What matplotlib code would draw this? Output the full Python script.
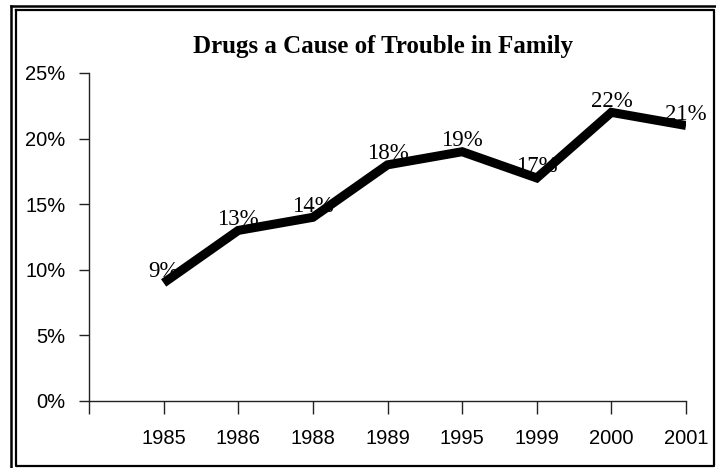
import matplotlib.pyplot as plt
from matplotlib.lines import Line2D

years = ['1985', '1986', '1988', '1989', '1995', '1999', '2000', '2001']
pct = [9, 13, 14, 18, 19, 17, 22, 21]
title = 'Drugs a Cause of Trouble in Family'

W, H = 716, 468
fig = plt.figure(figsize=(W / 100, H / 100), dpi=100)

def fx(x):
    return x / W

def fy(y):
    return 1 - y / H

# double frame round the chart (outer lines only show top/left)
fig.add_artist(Line2D([fx(11), fx(11)], [fy(5.5), fy(468)], color='black', lw=1.8))
fig.add_artist(Line2D([fx(11), fx(716)], [fy(5.5), fy(5.5)], color='black', lw=1.8))
fig.add_artist(Line2D([fx(15.5), fx(714), fx(714), fx(15.5), fx(15.5)],
                      [fy(10), fy(10), fy(466), fy(466), fy(10)], color='black', lw=1.6))

ax = fig.add_axes([fx(89), fy(401), fx(686) - fx(89), fy(73) - fy(401)])
xs = list(range(len(years)))
vals = [v / 100 for v in pct]
ax.plot(xs, vals, color='black', lw=6.5, solid_joinstyle='miter', solid_capstyle='butt')

for x, v, p in zip(xs, vals, pct):
    ax.annotate(f'{p}%', (x, v), xytext=(0, 4), textcoords='offset points',
                ha='center', va='baseline', fontsize=16.5, family='Liberation Serif')

ax.set_xlim(-1, len(years) - 1)
ax.set_ylim(0, 0.25)
ax.set_xticks(range(-1, len(years)))
ax.set_xticklabels([''] + years)
ax.set_yticks([0, 0.05, 0.10, 0.15, 0.20, 0.25])
ax.set_yticklabels(['0%', '5%', '10%', '15%', '20%', '25%'])

for s in ['top', 'right']:
    ax.spines[s].set_visible(False)
for s in ['left', 'bottom']:
    ax.spines[s].set_linewidth(1)
    ax.spines[s].set_color('#222222')

ax.tick_params(axis='x', direction='out', length=9, width=1, color='#222222', pad=11)
ax.tick_params(axis='y', direction='out', length=7, width=1, color='#222222', pad=10)
for lab in ax.get_xticklabels() + ax.get_yticklabels():
    lab.set_family('Liberation Sans')
    lab.set_fontsize(14.5)

fig.text(fx(383), fy(46), title, ha='center', va='center', fontsize=18,
         fontweight='bold', family='Liberation Serif')

fig.savefig('out.png', dpi=100)
